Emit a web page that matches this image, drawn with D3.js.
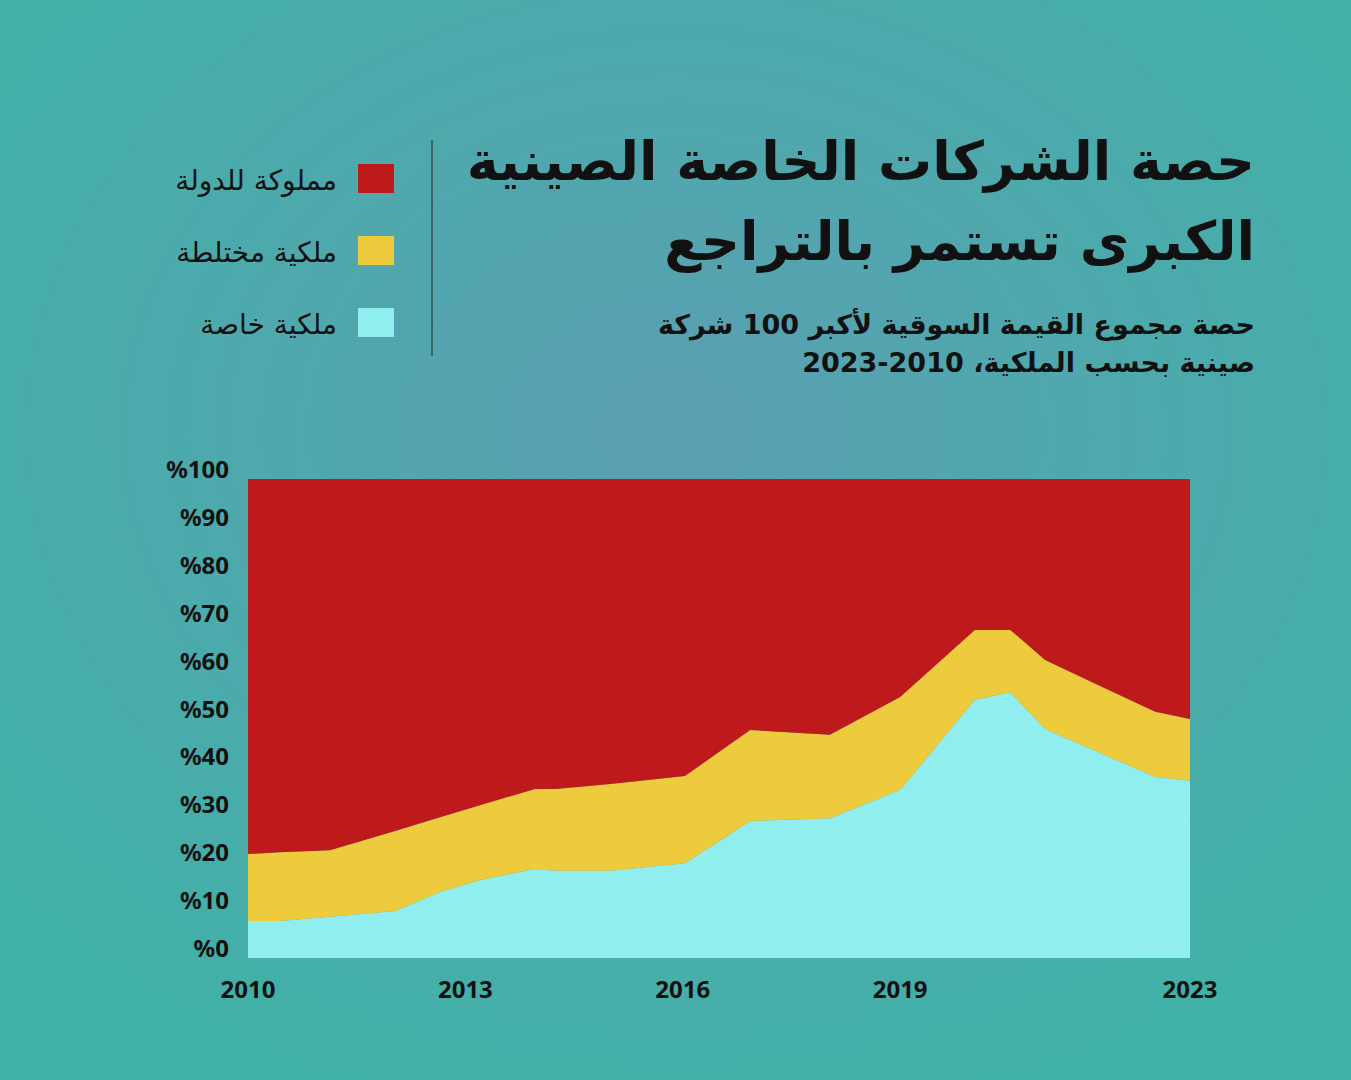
<!DOCTYPE html>
<html>
<head>
<meta charset="utf-8">
<script src="https://cdn.jsdelivr.net/npm/d3@7"></script>
<style>
  body { margin: 0; }
  svg { display: block; }
</style>
</head>
<body>
<div id="chart"></div>
<script>
// Share of market value of top 100 Chinese companies, by ownership

var years = [2010, 2010.44, 2011.13, 2012.03, 2012.65, 2013.2, 2013.96, 2014.24, 2015.0, 2016.03,
  2016.93, 2018.03, 2019.0, 2020.03, 2020.52, 2021.0, 2021.76, 2022.52, 2023];
var privateShare = [7.7, 7.7, 8.6, 9.8, 13.8, 16.3, 18.6, 18.2, 18.2, 19.8,
  28.6, 29.2, 35.1, 53.9, 55.5, 47.8, 42.8, 37.8, 37.0];
var mixedTop = [21.7, 22.1, 22.5, 26.5, 29.4, 31.9, 35.3, 35.3, 36.3, 38.0,
  47.6, 46.6, 54.5, 68.5, 68.5, 62.2, 56.8, 51.4, 49.9];
var xTicks = [2010, 2013, 2016, 2019, 2023];
var yTicks = [0, 10, 20, 30, 40, 50, 60, 70, 80, 90, 100];
var legendLabels = ["مملوكة للدولة", "ملكية مختلطة", "ملكية خاصة"];
var colors = { state: "#be1a1b", mixed: "#eecb3d", priv: "#90eeee" };

var svgWidth = 1351, svgHeight = 1080;
var svg = d3.select("#chart").append("svg")
  .attr("width", svgWidth).attr("height", svgHeight);

// background
var grad = svg.append("defs").append("radialGradient")
  .attr("id", "bg").attr("cx", "50%").attr("cy", "40%").attr("r", "70%");
grad.append("stop").attr("offset", "0%").attr("stop-color", "#5b9fb2");
grad.append("stop").attr("offset", "100%").attr("stop-color", "#3fb3a6");
svg.append("rect").attr("width", svgWidth).attr("height", svgHeight).attr("fill", "url(#bg)");

var arabicFont = "'DejaVu Sans', 'Noto Sans', sans-serif";

// title (rtl: anchor "start" sits at the right edge)
var title = svg.append("g").attr("font-family", arabicFont).attr("font-weight", "bold")
  .attr("fill", "#111").attr("text-anchor", "start").attr("direction", "rtl");
title.append("text").attr("x", 1255).attr("y", 180).attr("font-size", 54)
  .text("حصة الشركات الخاصة الصينية");
title.append("text").attr("x", 1255).attr("y", 260).attr("font-size", 54)
  .text("الكبرى تستمر بالتراجع");
title.append("text").attr("x", 1255).attr("y", 334).attr("font-size", 27)
  .text("حصة مجموع القيمة السوقية لأكبر 100 شركة");
title.append("text").attr("x", 1255).attr("y", 372).attr("font-size", 27)
  .text("صينية بحسب الملكية، 2010-2023");

// legend
svg.append("line").attr("x1", 432).attr("x2", 432).attr("y1", 140).attr("y2", 356)
  .attr("stroke", "#222").attr("stroke-width", 1);
var legColors = [colors.state, colors.mixed, colors.priv];
legendLabels.forEach(function(lab, i) {
  var y = 164 + i * 72;
  svg.append("rect").attr("x", 358).attr("y", y).attr("width", 36).attr("height", 29)
    .attr("fill", legColors[i]);
  svg.append("text").attr("x", 337).attr("y", y + 26).attr("text-anchor", "start")
    .attr("direction", "rtl").attr("font-family", arabicFont).attr("font-size", 28)
    .attr("fill", "#111").text(lab);
});

// chart
var x = d3.scaleLinear().domain([2010, 2023]).range([248, 1190]);
var y = d3.scaleLinear().domain([0, 100]).range([958, 479]);

var data = years.map(function(yr, i) {
  return { year: yr, priv: privateShare[i], mixed: mixedTop[i] - privateShare[i], state: 100 - mixedTop[i] };
});
var stack = d3.stack().keys(["priv", "mixed", "state"]);
var area = d3.area().x(d => x(d.data.year)).y0(d => y(d[0])).y1(d => y(d[1]));

svg.selectAll("path.layer").data(stack(data)).enter().append("path")
  .attr("class", "layer").attr("d", area).attr("fill", d => colors[d.key]);

// y labels
svg.selectAll("text.ytick").data(yTicks).enter().append("text")
  .attr("class", "ytick").attr("x", 229).attr("y", d => y(d) - 1)
  .attr("text-anchor", "end").attr("font-family", "'Noto Sans', sans-serif")
  .attr("font-weight", "bold").attr("font-size", 24).attr("fill", "#111")
  .text(d => "%" + d);

// x labels
svg.selectAll("text.xtick").data(xTicks).enter().append("text")
  .attr("class", "xtick").attr("x", d => x(d)).attr("y", 998)
  .attr("text-anchor", "middle").attr("font-family", "'Noto Sans', sans-serif")
  .attr("font-weight", "bold").attr("font-size", 24).attr("fill", "#111")
  .text(d => d);
</script>
</body>
</html>
